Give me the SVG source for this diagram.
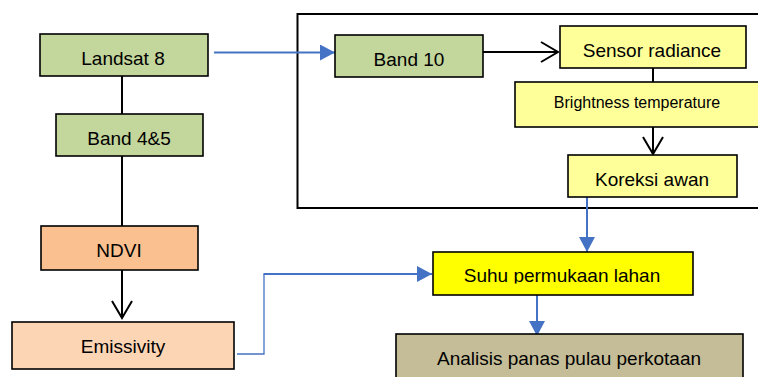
<svg xmlns="http://www.w3.org/2000/svg" width="758" height="377" viewBox="0 0 758 377">
<style>
.box{stroke:#000;stroke-width:1.6}
.t{font-family:"Liberation Sans",Arial,sans-serif;font-size:19px;fill:#000;text-anchor:middle}
.ts{font-family:"Liberation Sans",Arial,sans-serif;font-size:16px;fill:#000;text-anchor:middle}
.k{stroke:#000;stroke-width:2;fill:none}
.b{stroke:#4472C4;stroke-width:2;fill:none}
.green{fill:#C3D69B}.yel{fill:#FFFF99}
</style>
<defs>
<marker id="open" markerUnits="userSpaceOnUse" viewBox="0 0 20 22" refX="18" refY="11" markerWidth="20" markerHeight="22" orient="auto">
<path d="M1,1 L18,11 L1,21" fill="none" stroke="#000" stroke-width="2"/>
</marker>
<marker id="fill" markerUnits="userSpaceOnUse" viewBox="0 0 15 16" refX="15" refY="8" markerWidth="15" markerHeight="16" orient="auto">
<path d="M0,0 L15,8 L0,16 Z" fill="#4472C4"/>
</marker>
<clipPath id="suhuclip"><rect x="433" y="252" width="260" height="31.5"/></clipPath>
</defs>
<rect x="297.5" y="14" width="470" height="194" fill="none" stroke="#000" stroke-width="2"/>
<g id="connectors">
<line class="k" x1="122" y1="76" x2="122" y2="114"/>
<line class="k" x1="122" y1="156" x2="122" y2="226"/>
<line class="k" x1="122" y1="270" x2="122" y2="318" marker-end="url(#open)"/>
<line class="b" x1="214" y1="52.5" x2="335" y2="52.5" marker-end="url(#fill)"/>
<line class="k" x1="483" y1="52" x2="558" y2="52" marker-end="url(#open)"/>
<line class="k" x1="653" y1="68" x2="653" y2="82"/>
<line class="k" x1="653" y1="127" x2="653" y2="154" marker-end="url(#open)"/>
<line class="b" x1="587" y1="197" x2="587" y2="252" marker-end="url(#fill)"/>
<polyline fill="none" stroke="#4472C4" stroke-width="1.3" points="237,354 264,354 264,274"/>
<line class="b" x1="263.5" y1="274" x2="432" y2="274" marker-end="url(#fill)"/>
<line class="b" x1="537" y1="295" x2="537" y2="336" marker-end="url(#fill)"/>
</g>
<g id="landsat8"><rect class="box green" x="40" y="34" width="168" height="42"/><text class="t" x="123" y="65">Landsat 8</text></g>
<g id="band45"><rect class="box green" x="56" y="114" width="147" height="42"/><text class="t" x="129" y="145">Band 4&amp;5</text></g>
<g id="ndvi"><rect class="box" fill="#FAC090" x="41" y="226" width="157" height="44"/><text class="t" x="119" y="257">NDVI</text></g>
<g id="emissivity"><rect class="box" fill="#FCD5B5" x="12" y="322" width="222" height="47"/><text class="t" x="123" y="353">Emissivity</text></g>
<g id="band10"><rect class="box green" x="335" y="35" width="148" height="42"/><text class="t" x="409" y="66">Band 10</text></g>
<g id="sensor"><rect class="box yel" x="560" y="26" width="186" height="42"/><text class="t" x="652" y="57">Sensor radiance</text></g>
<g id="brightness"><rect class="box yel" x="515" y="82" width="250" height="45"/><text class="ts" x="637" y="108">Brightness temperature</text></g>
<g id="koreksi"><rect class="box yel" x="568" y="155" width="169" height="42"/><text class="t" x="652" y="186">Koreksi awan</text></g>
<g id="suhu"><rect class="box" fill="#FFFF00" x="433" y="252" width="260" height="43"/><text class="t" x="562" y="282" clip-path="url(#suhuclip)">Suhu permukaan lahan</text></g>
<g id="analisis"><rect class="box" fill="#C4BD97" x="396" y="334" width="347" height="50"/><text class="t" x="569" y="365">Analisis panas pulau perkotaan</text></g>
</svg>
